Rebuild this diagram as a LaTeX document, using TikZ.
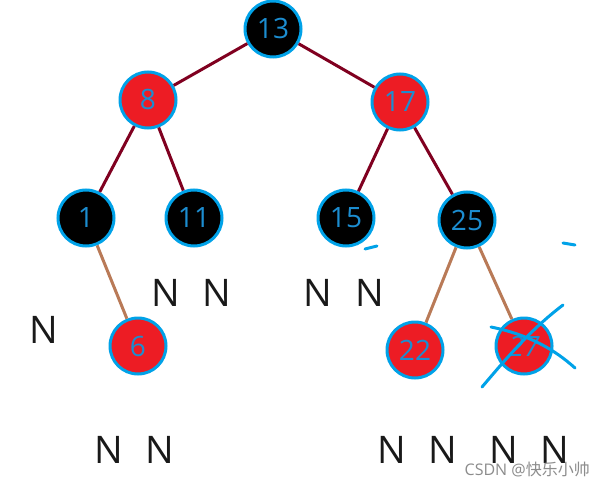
\documentclass[tikz,border=0pt]{standalone}
\usepackage{fontspec}
\setmainfont{Open Sans}
\newfontfamily\cjk{Noto Sans CJK SC}
\definecolor{rbred}{HTML}{ED1C24}
\definecolor{rbblue}{HTML}{00A2E8}
\definecolor{numblue}{HTML}{1C8DD0}
\definecolor{edgered}{HTML}{800020}
\definecolor{edgetan}{HTML}{B97A57}
\begin{document}
\begin{tikzpicture}[x=1pt,y=-1pt,
  rbnode/.style={circle,draw=rbblue,line width=3pt,minimum size=56pt,inner sep=0pt,
     text=numblue,font=\fontsize{28}{28}\selectfont},
  blk/.style={rbnode,fill=black},
  rd/.style={rbnode,fill=rbred},
  darkedge/.style={draw=edgered,line width=3pt},
  tanedge/.style={draw=edgetan,line width=3pt},
  nil/.style={font=\fontsize{38}{38}\selectfont,text=black!90,inner sep=0pt},
  scribble/.style={draw=rbblue,line width=3pt,line cap=round}]
\useasboundingbox[fill=white] (0,0) rectangle (593,489);
\node[blk] (n13) at (273,29) {13};
\node[rd] (n8) at (148,100) {8};
\node[rd] (n17) at (400,102) {17};
\node[blk] (n1) at (86,218) {1};
\node[blk] (n11) at (194,218) {11};
\node[blk] (n15) at (346,218) {15};
\node[blk] (n25) at (467,220) {25};
\node[rd] (n6) at (138,346) {6};
\node[rd] (n22) at (415,350) {22};
\node[rd] (n27) at (524,346) {\itshape 27};
\draw[darkedge] (n13) -- (n8);
\draw[darkedge] (n13) -- (n17);
\draw[darkedge] (n8) -- (n1);
\draw[darkedge] (n8) -- (n11);
\draw[darkedge] (n17) -- (n15);
\draw[darkedge] (n17) -- (n25);
\draw[tanedge] (n1) -- (n6);
\draw[tanedge] (n25) -- (n22);
\draw[tanedge] (n25) -- (n27);
\node[nil] (a1) at (166,293) {N};
\node[nil] (a2) at (217,293) {N};
\node[nil] (a3) at (318,293) {N};
\node[nil] (a4) at (370,293) {N};
\node[nil] (a5) at (44,330) {N};
\node[nil] (a6) at (109,450) {N};
\node[nil] (a7) at (160,450) {N};
\node[nil] (a8) at (392,450) {N};
\node[nil] (a9) at (443,450) {N};
\node[nil] (a10) at (504,450) {N};
\node[nil] (a11) at (555,450) {N};
\draw[scribble] (491,327) .. controls (530,335) and (555,350) .. (575,368);
\draw[scribble] (563,305) .. controls (530,330) and (505,360) .. (482,387);
\draw[scribble] (365,249) -- (377,246);
\draw[scribble] (563,243) -- (575,245);
\node[text=black!45,font=\fontsize{16}{16}\selectfont,anchor=east,inner sep=0pt] (wm) at (590,470) {CSDN @{\cjk 快乐小帅}};
\end{tikzpicture}
\end{document}
